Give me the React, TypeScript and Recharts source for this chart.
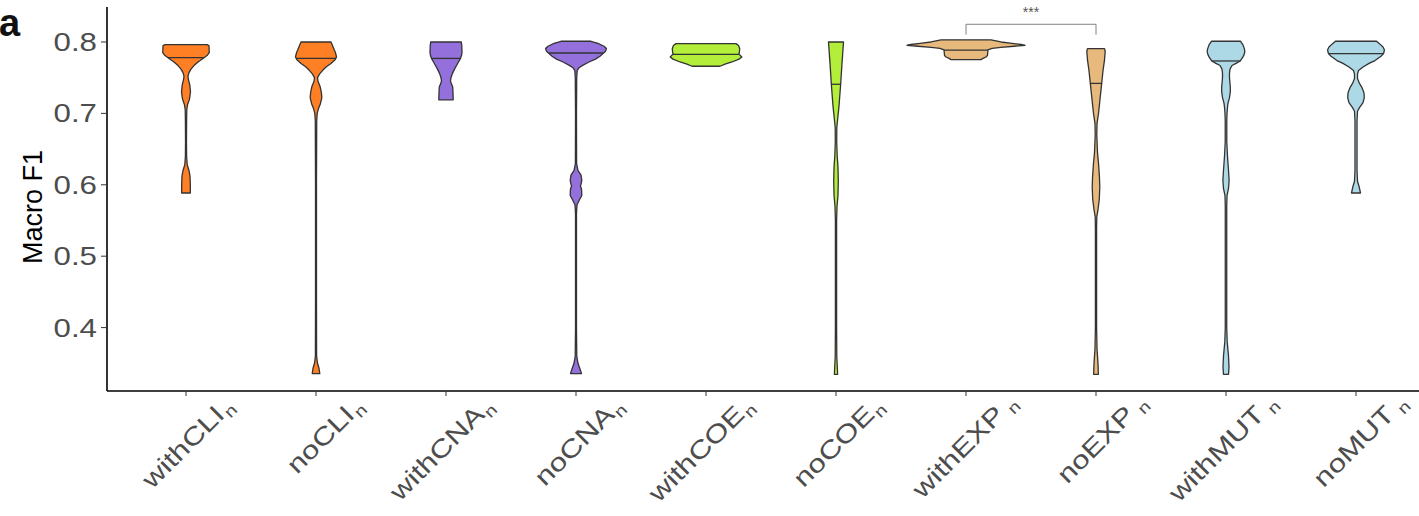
import React from 'react';
import { ComposedChart, Bar, XAxis, YAxis, ReferenceLine } from 'recharts';

// ---------- data ----------
const categories = ['withCLI', 'noCLI', 'withCNA', 'noCNA', 'withCOE', 'noCOE', 'withEXP', 'noEXP', 'withMUT', 'noMUT'];
const subscriptGap = [false, false, false, false, false, false, true, true, true, true];
const fills = ['#FF7F24', '#FF7F24', '#9370DB', '#9370DB', '#B3EE3A', '#B3EE3A', '#E8B97C', '#E8B97C', '#ADD8E6', '#ADD8E6'];
const medians = [0.778, 0.777, 0.777, 0.7846, 0.7826, 0.7408, 0.7885, 0.742, 0.7734, 0.7837];
const yTicks = [0.4, 0.5, 0.6, 0.7, 0.8];

// violin profiles: [Macro F1 value, relative density], from top (max) to bottom (min)
const withCLIProfile: [number, number][] = [
  [0.7963, 0.35], [0.795, 0.383], [0.785, 0.388], [0.781, 0.35], [0.777, 0.283], [0.772, 0.2],
  [0.767, 0.133], [0.762, 0.083], [0.757, 0.05], [0.752, 0.033], [0.747, 0.042], [0.74, 0.063],
  [0.73, 0.075], [0.72, 0.058], [0.712, 0.025], [0.705, 0.013], [0.69, 0.01], [0.66, 0.008],
  [0.64, 0.01], [0.628, 0.02], [0.62, 0.05], [0.612, 0.067], [0.6, 0.072], [0.5885, 0.072],
];
const noCLIProfile: [number, number][] = [
  [0.8, 0.25], [0.795, 0.275], [0.79, 0.3], [0.785, 0.325], [0.779, 0.342], [0.775, 0.317],
  [0.77, 0.25], [0.765, 0.167], [0.76, 0.108], [0.755, 0.058], [0.75, 0.025], [0.745, 0.033],
  [0.738, 0.067], [0.73, 0.088], [0.722, 0.097], [0.714, 0.075], [0.707, 0.042], [0.7, 0.02],
  [0.69, 0.012], [0.6, 0.008], [0.45, 0.008], [0.36, 0.01], [0.35, 0.025], [0.343, 0.05], [0.3356, 0.063],
];
const withCNAProfile: [number, number][] = [
  [0.8, 0.255], [0.795, 0.263], [0.785, 0.267], [0.781, 0.258], [0.777, 0.242], [0.772, 0.208],
  [0.767, 0.175], [0.762, 0.142], [0.756, 0.108], [0.75, 0.083], [0.745, 0.075], [0.741, 0.092],
  [0.737, 0.112], [0.728, 0.117], [0.719, 0.12],
];
const noCNAProfile: [number, number][] = [
  [0.801, 0.25], [0.798, 0.367], [0.794, 0.467], [0.791, 0.508], [0.787, 0.492], [0.784, 0.45],
  [0.78, 0.4], [0.776, 0.325], [0.772, 0.217], [0.768, 0.125], [0.764, 0.05], [0.76, 0.02],
  [0.75, 0.012], [0.7, 0.008], [0.63, 0.01], [0.62, 0.033], [0.614, 0.083], [0.606, 0.097],
  [0.598, 0.075], [0.594, 0.092], [0.585, 0.097], [0.579, 0.058], [0.572, 0.017], [0.56, 0.008],
  [0.4, 0.008], [0.36, 0.013], [0.35, 0.033], [0.342, 0.067], [0.3356, 0.092],
];
const withCOEProfile: [number, number][] = [
  [0.7977, 0.5], [0.795, 0.542], [0.791, 0.562], [0.787, 0.558], [0.783, 0.55], [0.779, 0.597],
  [0.776, 0.55], [0.772, 0.433], [0.769, 0.317], [0.766, 0.233],
];
const noCOEProfile: [number, number][] = [
  [0.8, 0.125], [0.77, 0.1], [0.74, 0.077], [0.71, 0.05], [0.69, 0.025], [0.68, 0.013],
  [0.66, 0.012], [0.64, 0.02], [0.625, 0.033], [0.605, 0.038], [0.585, 0.033], [0.57, 0.017],
  [0.55, 0.01], [0.4, 0.01], [0.36, 0.013], [0.3346, 0.027],
];
const withEXPProfile: [number, number][] = [
  [0.803, 0.417], [0.8, 0.583], [0.798, 0.767], [0.7965, 0.917], [0.7954, 0.983], [0.794, 0.8],
  [0.7925, 0.583], [0.791, 0.433], [0.789, 0.367], [0.785, 0.362], [0.781, 0.358], [0.779, 0.333],
  [0.777, 0.283], [0.7753, 0.25],
];
const noEXPProfile: [number, number][] = [
  [0.7907, 0.142], [0.787, 0.153], [0.775, 0.142], [0.76, 0.117], [0.742, 0.095], [0.72, 0.067],
  [0.7, 0.042], [0.686, 0.017], [0.67, 0.013], [0.645, 0.025], [0.63, 0.042], [0.61, 0.058],
  [0.597, 0.063], [0.58, 0.055], [0.565, 0.033], [0.555, 0.013], [0.54, 0.01], [0.4, 0.01],
  [0.37, 0.017], [0.35, 0.033], [0.3346, 0.04],
];
const withMUTProfile: [number, number][] = [
  [0.801, 0.243], [0.796, 0.283], [0.79, 0.308], [0.786, 0.313], [0.782, 0.3], [0.778, 0.275],
  [0.7734, 0.238], [0.77, 0.167], [0.767, 0.1], [0.762, 0.067], [0.756, 0.058], [0.751, 0.058],
  [0.745, 0.063], [0.737, 0.072], [0.73, 0.072], [0.722, 0.058], [0.714, 0.033], [0.709, 0.025],
  [0.7, 0.017], [0.69, 0.013], [0.66, 0.013], [0.64, 0.025], [0.62, 0.042], [0.606, 0.052],
  [0.595, 0.042], [0.585, 0.017], [0.57, 0.012], [0.4, 0.012], [0.38, 0.02], [0.36, 0.042],
  [0.345, 0.05], [0.3346, 0.042],
];
const noMUTProfile: [number, number][] = [
  [0.801, 0.343], [0.797, 0.4], [0.793, 0.45], [0.789, 0.473], [0.786, 0.467], [0.7837, 0.458],
  [0.78, 0.417], [0.774, 0.317], [0.77, 0.217], [0.765, 0.117], [0.76, 0.042], [0.755, 0.025],
  [0.749, 0.025], [0.742, 0.058], [0.736, 0.1], [0.729, 0.133], [0.722, 0.138], [0.715, 0.117],
  [0.708, 0.058], [0.703, 0.025], [0.69, 0.017], [0.62, 0.017], [0.605, 0.025], [0.598, 0.05],
  [0.5885, 0.075],
];
const profiles = [withCLIProfile, noCLIProfile, withCNAProfile, noCNAProfile, withCOEProfile,
  noCOEProfile, withEXPProfile, noEXPProfile, withMUTProfile, noMUTProfile];

// significance bracket between withEXP and noEXP
const bracketTop = 0.8248;
const bracketFoot = 0.8103;
const bracketLabel = '***';

const data = categories.map((name, i) => {
  const p = profiles[i];
  return {
    name,
    range: [p[p.length - 1][0], p[0][0]],
    median: medians[i],
    profile: p,
    fill: fills[i],
  };
});

// ---------- styling ----------
const HALF_WIDTH_PX = 60; // half-width of density 1
const FONT = '"Liberation Sans", Arial, Helvetica, sans-serif';
const OUTLINE = '#333333';
const TEXT_GREY = '#4D4D4D';

function densityAt(profile: [number, number][], v: number) {
  for (let i = 0; i < profile.length - 1; i++) {
    const [v1, d1] = profile[i];
    const [v2, d2] = profile[i + 1];
    if (v <= v1 && v >= v2) {
      const t = v1 === v2 ? 0 : (v1 - v) / (v1 - v2);
      return d1 + (d2 - d1) * t;
    }
  }
  return 0;
}

function ViolinShape(props: any) {
  const { x, y, width, height, payload } = props;
  if (!payload) return null;
  const [lo, hi] = payload.range;
  const top = Math.min(y, y + height);
  const bottom = Math.max(y, y + height);
  const cx = x + width / 2;
  const toY = (v: number) => bottom - ((v - lo) / (hi - lo)) * (bottom - top);
  const prof: [number, number][] = payload.profile;
  const right = prof.map(([v, d]) => `${cx + d * HALF_WIDTH_PX},${toY(v)}`);
  const left = prof.slice().reverse().map(([v, d]) => `${cx - d * HALF_WIDTH_PX},${toY(v)}`);
  const dMed = densityAt(prof, payload.median);
  const ym = toY(payload.median);
  return (
    <g>
      <polygon points={[...right, ...left].join(' ')} fill={payload.fill} stroke={OUTLINE} strokeWidth={1.3} strokeLinejoin="round" />
      <line x1={cx - dMed * HALF_WIDTH_PX} x2={cx + dMed * HALF_WIDTH_PX} y1={ym} y2={ym} stroke={OUTLINE} strokeWidth={1.3} />
    </g>
  );
}

function XTick(props: any) {
  const { x, y, payload, index } = props;
  const gap = subscriptGap[index] ? 5 : 1;
  return (
    <g transform={`translate(${x + 40},${y + 20}) rotate(-45) scale(1.25,1)`}>
      <text x={0} y={0} textAnchor="end" fontSize={25} fontFamily={FONT} fill={TEXT_GREY}>{payload.value}</text>
      <text x={gap} y={5} textAnchor="start" fontSize={16} fontFamily={FONT} fill={TEXT_GREY}>n</text>
    </g>
  );
}

function YTick(props: any) {
  const { x, y, payload } = props;
  return (
    <g transform={`translate(${x},${y}) scale(1.25,1)`}>
      <text x={0} y={0} dy={9} textAnchor="end" fontSize={25} fontFamily={FONT} fill={TEXT_GREY}>
        {Number(payload.value).toFixed(1)}
      </text>
    </g>
  );
}

export default function App() {
  return (
    <div style={{ position: 'absolute', left: 0, top: 0, width: 1419, height: 516, overflow: 'hidden', background: '#fff' }}>
      <ComposedChart width={1421} height={516} data={data} margin={{ top: 7, right: 0, bottom: 0, left: 0 }}>
        <XAxis
          dataKey="name"
          height={125}
          padding={{ left: 14, right: 0 }}
          axisLine={{ stroke: '#000', strokeWidth: 1.6 }}
          tickLine={{ stroke: '#333', strokeWidth: 1 }}
          tickSize={5}
          tickMargin={0}
          interval={0}
          tick={<XTick />}
        />
        <YAxis
          width={107}
          type="number"
          domain={[0.3112, 0.849]}
          allowDataOverflow
          ticks={yTicks}
          axisLine={{ stroke: '#000', strokeWidth: 1.6 }}
          tickLine={{ stroke: '#333', strokeWidth: 1 }}
          tickSize={6}
          tickMargin={4}
          tick={<YTick />}
        />
        <Bar dataKey="range" shape={<ViolinShape />} isAnimationActive={false} />
        <ReferenceLine
          segment={[{ x: 'withEXP', y: bracketTop }, { x: 'noEXP', y: bracketTop }]}
          stroke="#808080"
          strokeWidth={1}
          ifOverflow="visible"
          label={{ value: bracketLabel, position: 'top', offset: 7, fill: '#555', fontSize: 14, fontFamily: FONT }}
        />
        <ReferenceLine
          segment={[{ x: 'withEXP', y: bracketTop }, { x: 'withEXP', y: bracketFoot }]}
          stroke="#808080"
          strokeWidth={1}
          ifOverflow="visible"
        />
        <ReferenceLine
          segment={[{ x: 'noEXP', y: bracketTop }, { x: 'noEXP', y: bracketFoot }]}
          stroke="#808080"
          strokeWidth={1}
          ifOverflow="visible"
        />
      </ComposedChart>
      <svg width={1419} height={516} style={{ position: 'absolute', left: 0, top: 0, pointerEvents: 'none' }}>
        <text x={-1} y={36} fontSize={38} fontWeight="bold" fontFamily={FONT} fill="#111">a</text>
        <text x={42} y={207} transform="rotate(-90 42 207)" textAnchor="middle" fontSize={27} fontFamily={FONT} fill="#000">Macro F1</text>
      </svg>
    </div>
  );
}
